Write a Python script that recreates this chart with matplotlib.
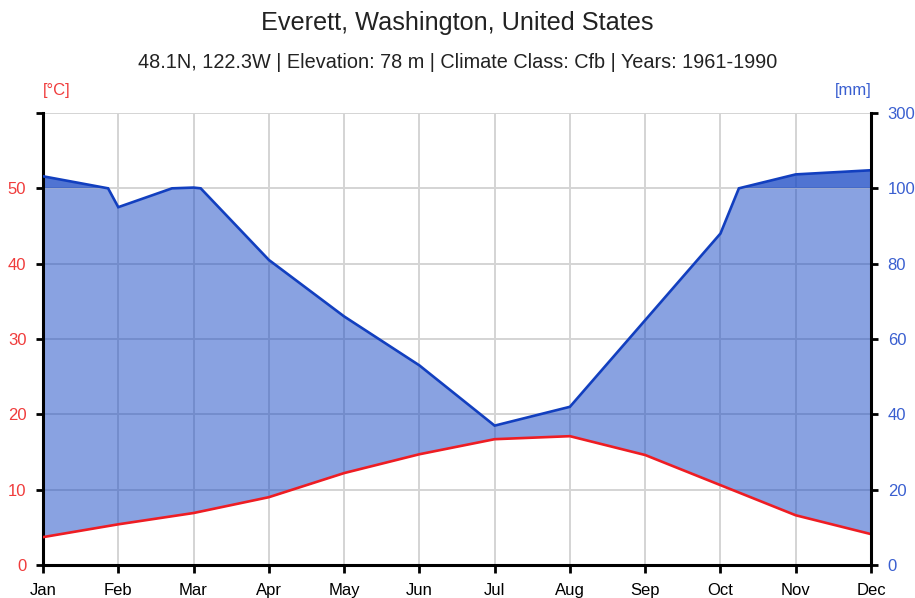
import numpy as np
import matplotlib
matplotlib.use("Agg")
import matplotlib.pyplot as plt

plt.rcParams['font.family'] = ['Liberation Sans', 'DejaVu Sans']

months = ["Jan", "Feb", "Mar", "Apr", "May", "Jun", "Jul", "Aug", "Sep", "Oct", "Nov", "Dec"]
temp_c = [3.7, 5.4, 6.9, 9.0, 12.2, 14.7, 16.7, 17.1, 14.6, 10.6, 6.6, 4.1]
precip_mm = [132, 95, 102, 81, 66, 53, 37, 42, 65, 88, 137, 148]
temp_ticks = [0, 10, 20, 30, 40, 50, 60]
temp_tick_labels = ["0", "10", "20", "30", "40", "50", ""]
precip_tick_labels = ["0", "20", "40", "60", "80", "100", "300"]

title = "Everett, Washington, United States"
subtitle = "48.1N, 122.3W | Elevation: 78 m | Climate Class: Cfb | Years: 1961-1990"

RED = "#ee1d23"
BLUE = "#123fbf"
TICK_RED = "#f03c3c"
TICK_BLUE = "#3a5fd0"


def p2t(p):
    p = np.asarray(p, dtype=float)
    return np.where(p <= 100, p / 2.0, 50 + (p - 100) / 20.0)


# build precipitation path with crossing points at 100 mm
xs = [0.0]
ps = [float(precip_mm[0])]
for i in range(1, len(precip_mm)):
    a, b = precip_mm[i - 1], precip_mm[i]
    if (a - 100) * (b - 100) < 0:
        f = (100 - a) / (b - a)
        xs.append(i - 1 + f)
        ps.append(100.0)
    xs.append(float(i))
    ps.append(float(b))
xs = np.array(xs)
pt = p2t(ps)
tt = np.interp(xs, np.arange(12), temp_c)

fig = plt.figure(figsize=(9.15, 5.98), dpi=100)
ax = fig.add_axes([43 / 915, 33 / 598, 828 / 915, 452 / 598])
ax.set_xlim(0, 11)
ax.set_ylim(0, 60)

# grid
for x in range(12):
    ax.axvline(x, color="#d4d4d4", lw=1.4, zorder=0)
for y in temp_ticks:
    ax.axhline(y, color="#d4d4d4", lw=1.4, zorder=0)

ax.fill_between(xs, tt, np.minimum(pt, 50), color="#1546c4", alpha=0.5, lw=0, zorder=1)
ax.fill_between(xs, 50, pt, where=pt >= 50, color="#1546c4", alpha=0.75, lw=0, zorder=1,
                interpolate=True)
ax.plot(xs, pt, color=BLUE, lw=1.9, zorder=3, solid_joinstyle="miter")
ax.plot(np.arange(12), temp_c, color=RED, lw=1.9, zorder=3)

ax.set_xticks(np.arange(12))
ax.set_xticklabels(months, fontsize=12)
ax.set_yticks(temp_ticks)
ax.set_yticklabels(temp_tick_labels, fontsize=12, color=TICK_RED)
ax.tick_params(axis="x", length=6, width=2, pad=7, color="black")
ax.tick_params(axis="y", length=5, width=2, pad=7, color="black")
ax.spines["top"].set_visible(False)
ax.spines["right"].set_visible(False)
ax.spines["left"].set_linewidth(2.2)
ax.spines["bottom"].set_linewidth(2.2)

ax2 = ax.twinx()
ax2.set_ylim(0, 60)
ax2.set_yticks(temp_ticks)
ax2.set_yticklabels(precip_tick_labels, fontsize=12, color=TICK_BLUE)
ax2.tick_params(axis="y", length=5, width=2, pad=7, color="black")
ax2.spines["top"].set_visible(False)
ax2.spines["left"].set_visible(False)
ax2.spines["bottom"].set_visible(False)
ax2.spines["right"].set_linewidth(2.2)

fig.text(0.5, 1 - 23 / 598, title, ha="center", va="center", fontsize=18.2, color="#222222")
fig.text(0.5, 1 - 62 / 598, subtitle, ha="center", va="center", fontsize=14.3, color="#222222")
fig.text(57 / 915, 1 - 91 / 598, "[°C]", ha="center", va="center", fontsize=12, color=TICK_RED)
fig.text(853 / 915, 1 - 91 / 598, "[mm]", ha="center", va="center", fontsize=12, color=TICK_BLUE)

fig.savefig("out.png", dpi=100)
